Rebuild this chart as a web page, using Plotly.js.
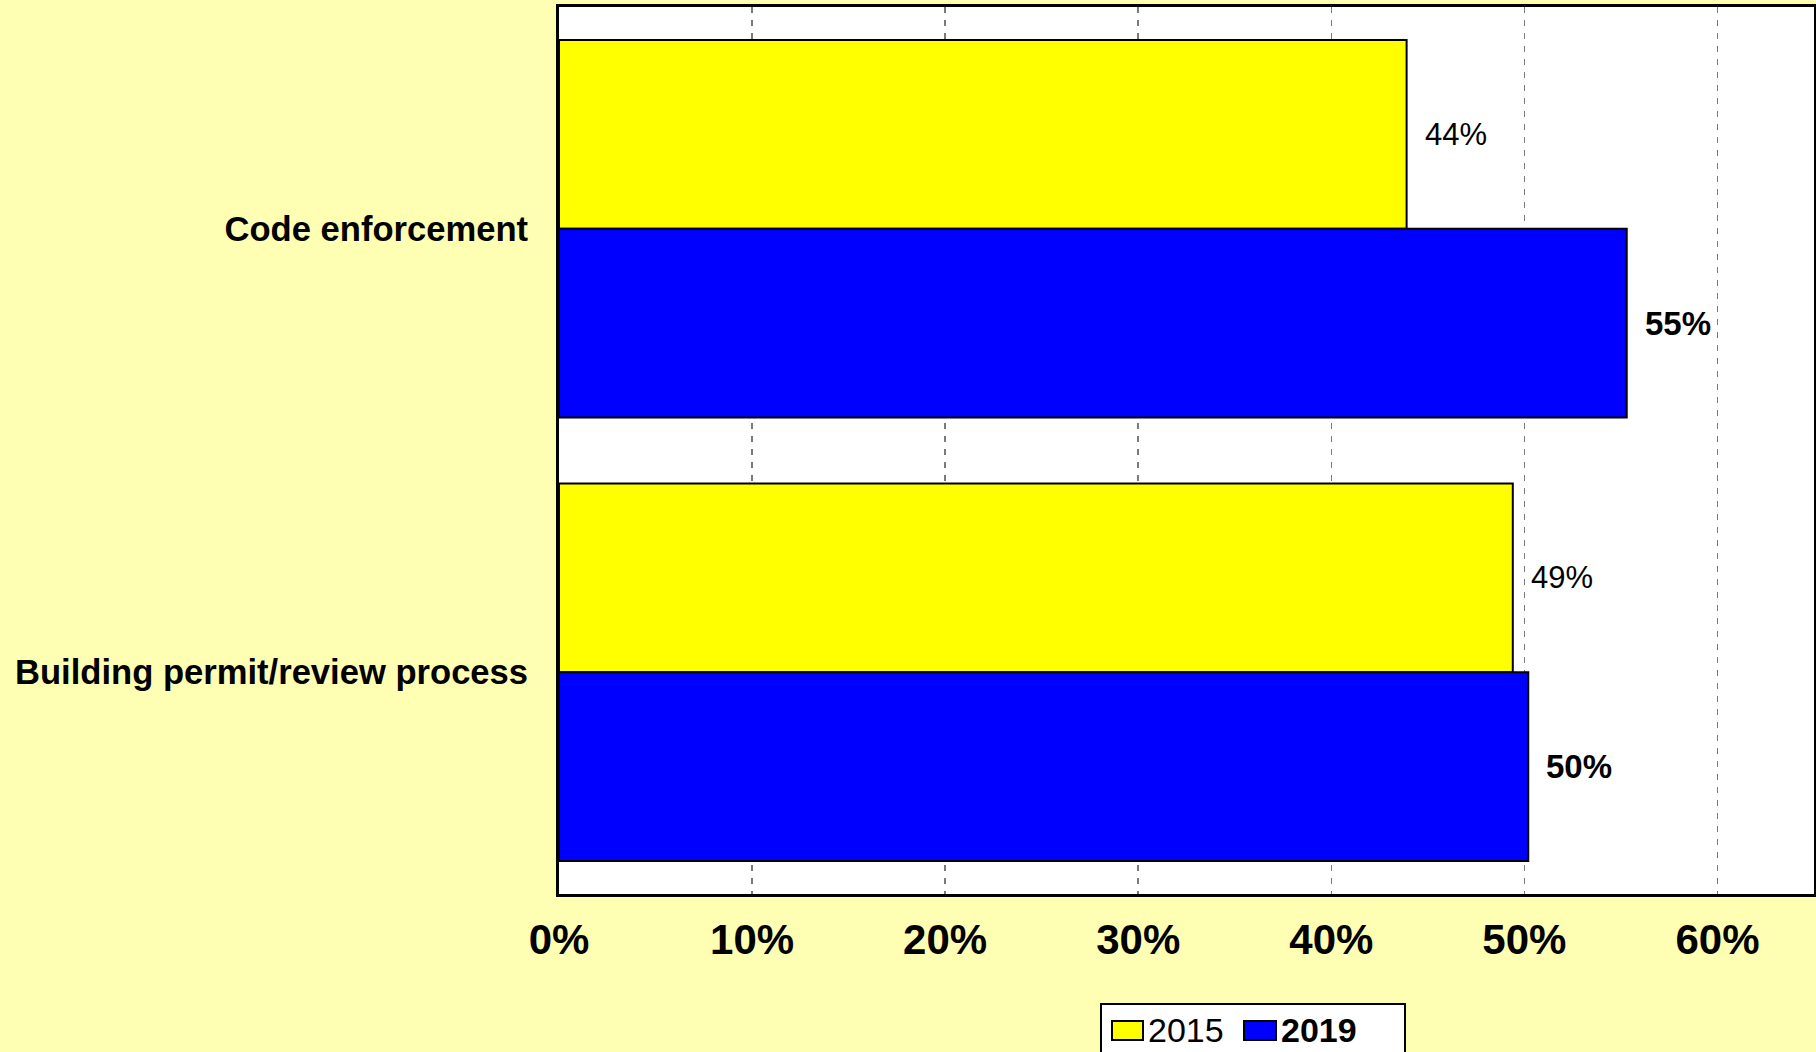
<!DOCTYPE html>
<html>
<head>
<meta charset="utf-8">
<script src="https://cdn.plot.ly/plotly-3.0.1.min.js"></script>
<style>
  html, body { margin: 0; padding: 0; background: #FFFFB3; }
  #chart { width: 1816px; height: 1052px; }
</style>
</head>
<body>
<div id="chart"></div>
<script>
// Survey categories (top to bottom)
const categories = ['Code enforcement', 'Building permit/review process'];

// Share of respondents, percent
const values2015 = [43.9, 49.4];
const values2019 = [55.3, 50.2];

const seriesNames = ['2015', '2019'];
const seriesColors = ['#FFFF00', '#0000FF'];

const xTickVals = [0, 10, 20, 30, 40, 50, 60];
const xTickText = ['0%', '10%', '20%', '30%', '40%', '50%', '60%'];

const FONT = 'Liberation Sans, Arial, Helvetica, sans-serif';
const W = 1816, H = 1052;
const M = { l: 559, r: 2, t: 7, b: 158 };

// pixel -> paper helpers for the hand-built legend
const px = x => (x - M.l) / (W - M.l - M.r);
const py = y => (H - M.b - y) / (H - M.t - M.b);

const series = [values2015, values2019];

const traces = series.map((vals, s) => ({
  type: 'bar',
  orientation: 'h',
  name: seriesNames[s],
  x: vals,
  y: categories,
  marker: { color: seriesColors[s], line: { color: '#000', width: 2 } },
  showlegend: false,
  hoverinfo: 'x+y'
}));

// value labels just past each bar end
const valueLabels = [];
series.forEach((vals, s) => {
  vals.forEach((v, i) => {
    valueLabels.push({
      x: v, y: categories[i], xref: 'x', yref: 'y',
      text: Math.round(v) + '%',
      showarrow: false, xanchor: 'left', yanchor: 'middle',
      xshift: 16, yshift: s === 0 ? 94.5 : -94.5,
      font: { family: FONT, size: s === 0 ? 31 : 33, color: '#000',
              weight: s === 0 ? 'normal' : 'bold' }
    });
  });
});

// legend box with swatches
const legendShapes = [
  { type: 'rect', xref: 'paper', yref: 'paper',
    x0: px(1101), x1: px(1405), y0: py(1075), y1: py(1004),
    fillcolor: '#FFFFFF', line: { color: '#000', width: 2 } },
  { type: 'rect', xref: 'paper', yref: 'paper',
    x0: px(1112), x1: px(1143), y0: py(1040), y1: py(1021),
    fillcolor: seriesColors[0], line: { color: '#000', width: 2 } },
  { type: 'rect', xref: 'paper', yref: 'paper',
    x0: px(1244), x1: px(1276), y0: py(1040), y1: py(1021),
    fillcolor: seriesColors[1], line: { color: '#000', width: 2 } }
];
const legendLabels = [
  { x: px(1146), y: py(1030), xref: 'paper', yref: 'paper', text: seriesNames[0],
    showarrow: false, xanchor: 'left', yanchor: 'middle',
    font: { family: FONT, size: 34, color: '#000' } },
  { x: px(1279), y: py(1030), xref: 'paper', yref: 'paper', text: '<b>' + seriesNames[1] + '</b>',
    showarrow: false, xanchor: 'left', yanchor: 'middle',
    font: { family: FONT, size: 34, color: '#000' } }
];

const layout = {
  width: W, height: H,
  margin: { l: M.l, r: M.r, t: M.t, b: M.b, autoexpand: false },
  paper_bgcolor: '#FFFFB3',
  plot_bgcolor: '#FFFFFF',
  barmode: 'group',
  bargap: 0.149,
  bargroupgap: 0,
  showlegend: false,
  xaxis: {
    range: [0, 65],
    tickvals: xTickVals,
    ticktext: xTickText,
    ticks: '',
    ticklabelstandoff: 7,
    tickfont: { family: FONT, size: 42, color: '#000', weight: 'bold' },
    showgrid: true,
    gridcolor: '#7a7a7a',
    gridwidth: 1.5,
    griddash: '6px,7px',
    zeroline: false,
    showline: true, mirror: true, linecolor: '#000', linewidth: 3
  },
  yaxis: {
    type: 'category',
    range: [1.5, -0.5],
    ticks: '',
    ticklabelstandoff: 21,
    tickfont: { family: FONT, size: 34.6, color: '#000', weight: 'bold' },
    showgrid: false,
    zeroline: false,
    showline: true, mirror: true, linecolor: '#000', linewidth: 3
  },
  shapes: legendShapes,
  annotations: valueLabels.concat(legendLabels)
};

Plotly.newPlot('chart', traces, layout, { displayModeBar: false, staticPlot: true });
</script>
</body>
</html>
